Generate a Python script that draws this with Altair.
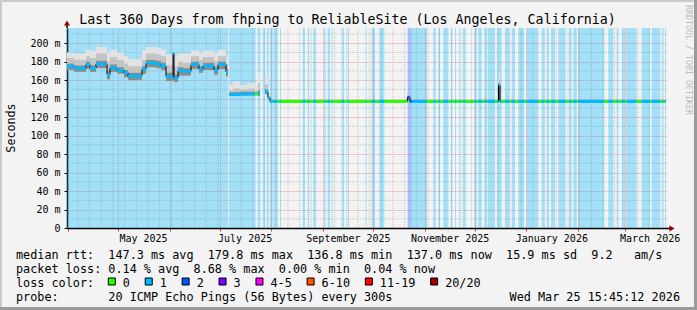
import altair as alt
import pandas as pd

MONO = "DejaVu Sans Mono"
DAY_MS = 86400000.0
START_MS = pd.Timestamp("2025-03-31 10:00:00").value / 1e6   # left edge of the time axis (UTC)
SPAN_DAYS = 360
DATA_END = 359.24                                          # last sample (days from left edge)


def tms(d):
    return START_MS + d * DAY_MS


# ---------------- detailed steps (days from left edge) ----------------
step_start = [0.0, 4.2, 11.4, 13.8, 17.4, 24.0, 25.8, 30.0, 34.2, 36.6, 45.0, 47.4, 53.4,
              56.4, 59.4, 63.6, 64.2, 66.6, 69.6, 74.4, 79.2, 81.6, 88.2, 90.6, 95.4,
              97.5, 99.6, 103.8, 108.0, 112.8, 114.6,
              118.8, 120.6]
step_end = [4.2, 11.4, 13.8, 17.4, 24.0, 25.8, 30.0, 34.2, 36.6, 45.0, 47.4, 53.4, 56.4,
            59.4, 63.6, 64.2, 66.6, 69.6, 74.4, 79.2, 81.6, 88.2, 90.6, 95.4, 96.6,
            99.6, 103.8, 108.0, 112.8, 114.6, 115.8,
            120.6, 121.8]
step_median = [175, 173, 177, 173, 177.5, 166, 173.5, 171, 168, 164.5, 172, 178.5, 177.5,
               175.5, 164, 189, 162.5, 170.5, 169.5, 177, 172, 175.5, 171, 177, 169,
               144.5, 144.5, 145, 145, 145, 145.5,
               147.5, 141]
step_top = [190, 189, 193, 192, 196, 190, 193, 190, 186, 183, 192, 196, 195,
            193, 188, 191, 187, 189, 189, 192, 190, 192, 190, 193, 185,
            155, 158.5, 155, 157, 155, 169,
            166, 146]
step_mid = [184, 182, 186, 184, 189, 180, 185, 182, 178, 175, 182, 189, 188,
            186, 176, 190, 175, 180, 179, 186, 182, 185, 181, 186, 178,
            149, 151, 150, 151, 149, 157,
            155, 143]
step_inner = [178, 176, 180, 176, 181, 170, 177, 174, 171, 168, 175, 182, 181,
              179, 168, 190, 166, 174, 173, 180, 175, 179, 174, 180, 172,
              147, 147, 147.5, 147.5, 147, 149,
              150, 142]
step_low = [171, 169, 172, 169, 173, 161, 169, 167, 163, 160, 167, 174, 173,
            171, 159, 160, 158, 165, 165, 172, 168, 171, 166, 172, 164,
            143, 143, 143.5, 143.5, 144, 143,
            145, 139]
step_loss = ["L1"] * 29 + ["L0"] + ["L1"] * 3
step_seg = ["A"] * 25 + ["B"] * 6 + ["C"] * 2

# flat part after the step-down
FLAT_START = 121.8
FLAT_MEDIAN = 137.0
spike_start = [204.2, 258.9]
spike_end = [205.8, 259.8]
spike_median = [141.5, 155]
spike_top = [143, 168]
spike_mid = [142, 161]
spike_inner = [141.5, 156]
spike_low = [137, 137]
spike_loss = ["L2", "L1"]

# ---------------- loss shading bands (days) ----------------
band_start = [0.0, 97.6, 114.4, 117.4, 119.9, 121.8, 123.8, 127.8, 141.4, 144.4, 147.8,
              154.4, 156.4, 158.8, 164.8, 168.4, 179.2, 182.8, 187.4, 204.4, 206.8, 219.8,
              222.8, 225.8, 230.4, 232.8, 235.4, 237.8, 242.4, 244.4, 246.8, 250.4, 252.4,
              258.0, 262.8, 266.8, 270.8, 275.8, 284.8, 287.8, 290.4, 294.8, 301.2, 303.8,
              306.8, 324.8, 329.8, 332.8, 335.8, 344.8, 350.8, 357.2, 358.8]
band_end = [96.8, 113.2, 116.0, 118.8, 121.1, 123.4, 126.4, 128.4, 142.8, 145.4, 149.4,
            155.2, 157.8, 159.4, 166.2, 169.2, 179.8, 184.8, 190.4, 206.8, 216.0, 221.2,
            223.8, 228.8, 231.2, 233.4, 236.2, 239.2, 242.8, 245.8, 248.8, 251.8, 256.8,
            260.8, 265.4, 268.8, 274.2, 282.8, 286.4, 289.2, 292.8, 299.2, 302.8, 305.8,
            322.4, 327.8, 330.8, 334.8, 341.8, 349.8, 355.8, 358.0, 359.4]
band_loss = ["L1"] * 19 + ["L2"] + ["L1"] * 33

loss_levels = ["L0", "L1", "L2"]
loss_colors = ["#26ff00", "#00b8ff", "#0059ff"]

legend_labels = ["0", "1", "2", "3", "4-5", "6-10", "11-19", "20/20"]
legend_colors = ["#26ff00", "#00b8ff", "#0059ff", "#7e00ff", "#ff00ff", "#ff5500", "#ff0000", "#a10000"]

y_ticks = [0, 20, 40, 60, 80, 100, 120, 140, 160, 180, 200]
y_minor = [10, 30, 50, 70, 90, 110, 130, 150, 170, 190, 210]

title_text = "Last 360 Days from fhping to ReliableSite (Los Angeles, California)"
row1 = "median rtt:  147.3 ms avg  179.8 ms max  136.8 ms min  137.0 ms now  15.9 ms sd  9.2   am/s"
row2 = "packet loss: 0.14 % avg  8.68 % max  0.00 % min  0.04 % now"
row3 = "loss color:"
row4 = "probe:       20 ICMP Echo Pings (56 Bytes) every 300s"
stamp = "Wed Mar 25 15:45:12 2026"
side = "RRDTOOL / TOBI OETIKER"

# ---------------- build tables ----------------
steps = pd.DataFrame({
    "d0": step_start, "d1": step_end, "med": step_median, "top": step_top, "mid": step_mid,
    "inner": step_inner, "low": step_low, "loss": step_loss, "seg": step_seg})

bands = pd.DataFrame({"d0": band_start, "d1": band_end, "loss": band_loss})

edges = {FLAT_START, DATA_END}
edges.update(e for e in band_start + band_end if FLAT_START < e < DATA_END)
edges.update(spike_start + spike_end)
edges = sorted(edges)
flat_rows = []
for a, b in zip(edges[:-1], edges[1:]):
    c = (a + b) / 2
    row = {"d0": a, "d1": b, "med": FLAT_MEDIAN, "top": None, "mid": None, "inner": None,
           "low": None, "loss": "L0", "seg": "C"}
    for s0, s1, lv in zip(band_start, band_end, band_loss):
        if s0 <= c < s1:
            row["loss"] = lv
    for i in range(len(spike_start)):
        if spike_start[i] <= c < spike_end[i]:
            row.update(med=spike_median[i], top=spike_top[i], mid=spike_mid[i],
                       inner=spike_inner[i], low=spike_low[i], loss=spike_loss[i])
    flat_rows.append(row)
steps = pd.concat([steps, pd.DataFrame(flat_rows)], ignore_index=True)
for df in (steps, bands):
    df["t0"] = tms(df["d0"])
    df["t1"] = tms(df["d1"])

smoke = steps.dropna(subset=["top"]).copy()

pts = []
for seg, g in steps.groupby("seg"):
    g = g.sort_values("t0")
    for _, r in g.iterrows():
        pts.append({"t": r.t0, "med": r.med, "seg": seg})
    last = g.iloc[-1]
    pts.append({"t": last.t1, "med": last.med, "seg": seg})
line_pts = pd.DataFrame(pts)

months = pd.date_range("2025-04-01", "2026-03-01", freq="MS")
month_ms = [m.value / 1e6 for m in months]
mondays = pd.date_range("2025-03-31", "2026-03-26", freq="W-MON")
week_ms = [m.value / 1e6 for m in mondays
           if m.day != 1 and tms(0) < m.value / 1e6 < tms(SPAN_DAYS)]
weeks = pd.DataFrame({"t": week_ms})
minor = pd.DataFrame({"v": y_minor})

# ---------------- scales / axes ----------------
XS = alt.Scale(type="utc", domain=[tms(0), tms(SPAN_DAYS)], nice=False)
YS = alt.Scale(domain=[0, 216.5], nice=False, zero=True)
CS = alt.Scale(domain=loss_levels, range=loss_colors)

XAXIS = alt.Axis(values=month_ms, title="",
                 labelExpr="utcmonth(datum.value) % 2 == 0 ? utcFormat(datum.value, '%B %Y') : ''",
                 labelOffset=25, labelFont=MONO, labelFontSize=10, labelColor="#000000",
                 labelPadding=10.5, labelBaseline="alphabetic", labelOverlap=False,
                 labelFlush=False, tickColor="#d04040", tickSize=3, tickWidth=1,
                 grid=True, gridColor="#ec9a9a", gridDash=[1, 1], gridWidth=1,
                 domainColor="#000000", domainWidth=1.5)
YAXIS = alt.Axis(values=y_ticks, title="",
                 labelExpr="datum.value == 0 ? '0' : datum.value + ' m'",
                 labelFont=MONO, labelFontSize=10, labelColor="#000000", labelPadding=4,
                 tickSize=3, tickColor="#000000", grid=True, gridColor="#ec9a9a",
                 gridDash=[1, 1], gridWidth=1, domainColor="#000000", domainWidth=1.5)

OX, OY = 67, 28   # plot origin in the page


def txt(s, x, y, size=11.8, align="left", angle=0, color="#000000", baseline="alphabetic"):
    return alt.Chart(pd.DataFrame({"s": [s.replace(" ", "\u00a0")]})).mark_text(
        x=x - OX, y=y - OY, align=align, baseline=baseline, angle=angle, font=MONO,
        fontSize=size, color=color).encode(text="s:N")


layers = []
layers.append(alt.Chart(weeks).mark_rule(color="#c4c4c4", strokeDash=[1, 1], strokeWidth=1)
              .encode(x=alt.X("t:T", scale=XS, axis=XAXIS)))
layers.append(alt.Chart(minor).mark_rule(color="#c4c4c4", strokeDash=[1, 1], strokeWidth=1)
              .encode(y=alt.Y("v:Q", scale=YS, axis=YAXIS)))
layers.append(alt.Chart(bands).mark_rect(opacity=0.33)
              .encode(x=alt.X("t0:T", scale=XS, axis=XAXIS), x2="t1:T",
                      color=alt.Color("loss:N", scale=CS, legend=None)))
for top_col, shade in (("top", "#e2e2e2"), ("mid", "#c4c4c4"), ("inner", "#8c8c8c")):
    layers.append(alt.Chart(smoke).mark_rect(color=shade)
                  .encode(x=alt.X("t0:T", scale=XS, axis=XAXIS), x2="t1:T",
                          y=alt.Y("low:Q", scale=YS, axis=YAXIS), y2=f"{top_col}:Q"))
layers.append(alt.Chart(line_pts).mark_line(interpolate="step-after", color="#000000", strokeWidth=1)
              .encode(x=alt.X("t:T", scale=XS, axis=XAXIS), y=alt.Y("med:Q", scale=YS, axis=YAXIS),
                      detail="seg:N"))
layers.append(alt.Chart(steps).mark_rule(strokeWidth=3)
              .encode(x=alt.X("t0:T", scale=XS, axis=XAXIS), x2="t1:T",
                      y=alt.Y("med:Q", scale=YS, axis=YAXIS),
                      color=alt.Color("loss:N", scale=CS, legend=None)))

# axis extensions and arrows
layers.append(alt.Chart(pd.DataFrame({"a": [0]})).mark_rule(color="#000000", strokeWidth=1.5)
              .encode(x=alt.value(600), x2=alt.value(604), y=alt.value(200.5)))
layers.append(alt.Chart(pd.DataFrame({"a": [0]})).mark_rule(color="#000000", strokeWidth=1.5)
              .encode(x=alt.value(0), y=alt.value(0), y2=alt.value(-4)))
layers.append(alt.Chart(pd.DataFrame({"a": [0]})).mark_point(shape="triangle-right", filled=True,
                                                               size=36, color="#990000", opacity=1)
              .encode(x=alt.value(605), y=alt.value(200.5)))
layers.append(alt.Chart(pd.DataFrame({"a": [0]})).mark_point(shape="triangle-up", filled=True,
                                                               size=36, color="#990000", opacity=1)
              .encode(x=alt.value(0), y=alt.value(-5)))

# frame
for (x1, x2, y1, y2, col, w) in ((0, 697, 1, 1, "#cbcbcb", 2), (1, 1, 0, 310, "#cbcbcb", 2),
                                  (0, 697, 308.5, 308.5, "#9a9a9a", 3), (695.5, 695.5, 0, 310, "#9a9a9a", 3)):
    enc = {}
    if x1 == x2:
        enc = dict(x=alt.value(x1 - OX), y=alt.value(y1 - OY), y2=alt.value(y2 - OY))
    else:
        enc = dict(x=alt.value(x1 - OX), x2=alt.value(x2 - OX), y=alt.value(y1 - OY))
    layers.append(alt.Chart(pd.DataFrame({"a": [0]})).mark_rule(color=col, strokeWidth=w).encode(**enc))

# texts
layers.append(txt(title_text, 347.5, 24, size=13.3, align="center"))
layers.append(txt("Seconds", 10.5, 128, size=11.7, align="center", angle=270, baseline="middle"))
layers.append(txt(side, 688, 60, size=8.3, align="center", angle=90, color="#bcbcbc", baseline="middle"))
layers.append(txt(row1, 16, 258.5))
layers.append(txt(row2, 16, 272.5))
layers.append(txt(row3, 16, 286.5))
layers.append(txt(row4, 16, 300.7))
layers.append(txt(stamp, 680, 300.7, align="right"))

CHAR = 7.1
col = 13.0
for lab, c in zip(legend_labels, legend_colors):
    sx = 16 + col * CHAR
    layers.append(alt.Chart(pd.DataFrame({"a": [0]})).mark_rect(fill=c, stroke="#000000", strokeWidth=1)
                  .encode(x=alt.value(sx - OX), x2=alt.value(sx + 7 - OX),
                          y=alt.value(278 - OY), y2=alt.value(285 - OY)))
    layers.append(txt(lab, sx + 14.5, 286.5))
    col += len(lab) + 4.2

chart = alt.layer(*layers).properties(
    width=600, height=200, background="#f3f3f3",
    padding={"left": OX, "top": OY, "right": 30, "bottom": 82},
    autosize=alt.AutoSizeParams(type="none"),
).configure_view(fill="#ffffff", strokeWidth=0)

chart.save("out.html", embed_options={"renderer": "svg", "actions": False})
